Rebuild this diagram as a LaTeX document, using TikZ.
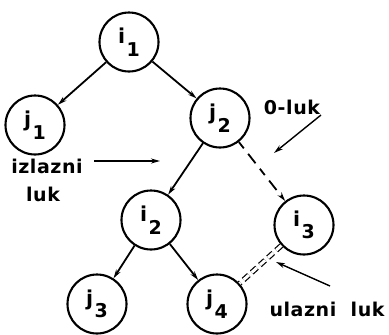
\documentclass[tikz,border=0pt]{standalone}
\usepackage{fontspec}
\setmainfont{DejaVu Sans}[BoldFont=DejaVu Sans Bold, BoldFeatures={LetterSpace=3}]
\usetikzlibrary{arrows.meta}
% vertex label: letter with a large, low subscript
\newcommand\vlbl[2]{#1\kern1.5pt\raisebox{-12.5pt}{\fontsize{19}{19}\selectfont #2}}
\begin{document}
\begin{tikzpicture}[x=1pt,y=-1pt,
  vertex/.style={circle,draw,line width=2.1pt,minimum size=59pt,inner sep=0pt,
    font=\bfseries\fontsize{20.5}{20}\selectfont},
  txt/.style={font=\bfseries\fontsize{19}{20}\selectfont,inner sep=0pt},
  tip/.style={-{Stealth[length=9pt,width=5pt]}},
  arc/.style={tip,line width=1.8pt},
  pointer/.style={tip,line width=1.4pt}]
\useasboundingbox (0,0) rectangle (389,335);

% vertices
\node[vertex] (i1) at (129,42)  {\vlbl{i}{1}};
\node[vertex] (j1) at (35,125)  {\vlbl{j}{1}};
\node[vertex] (j2) at (220,118) {\vlbl{j}{2}};
\node[vertex] (i2) at (151,220) {\vlbl{i}{2}};
\node[vertex] (i3) at (304,225) {\vlbl{i}{3}};
\node[vertex] (j3) at (97,304)  {\vlbl{j}{3}};
\node[vertex] (j4) at (217,304) {\vlbl{j}{4}};

% tree arcs
\draw[arc] (i1) -- (j1);
\draw[arc] (i1) -- (j2);
\draw[arc] (j2) -- (i2);
\draw[arc] (i2) -- (j3);
\draw[arc] (i2) -- (j4);
% zero arc
\draw[arc,dash pattern=on 8pt off 7pt on 12pt off 7pt] (j2) -- (i3);
% entering arc, drawn as a dashed double line
\draw[line width=1.2pt,double distance=3pt,dash pattern=on 7pt off 4pt] (i3) -- (j4);

% captions
\node[txt] (zl) at (292,107) {0-luk};
\node[txt] (izl) at (47,166) {izlazni};
\node[txt] (izl2) at (43,194) {luk};
\node[txt] (ul) at (327,309) {ulazni\ \ luk};

% caption pointers
\coordinate (zlS) at (321,115);
\coordinate (zlE) at (274,153);
\coordinate (izS) at (94,161);
\coordinate (izE) at (160,161);
\coordinate (ulS) at (330,286);
\coordinate (ulE) at (276,262);
\draw[pointer] (zlS) -- (zlE);
\draw[pointer] (izS) -- (izE);
\draw[pointer] (ulS) -- (ulE);
\end{tikzpicture}
\end{document}
